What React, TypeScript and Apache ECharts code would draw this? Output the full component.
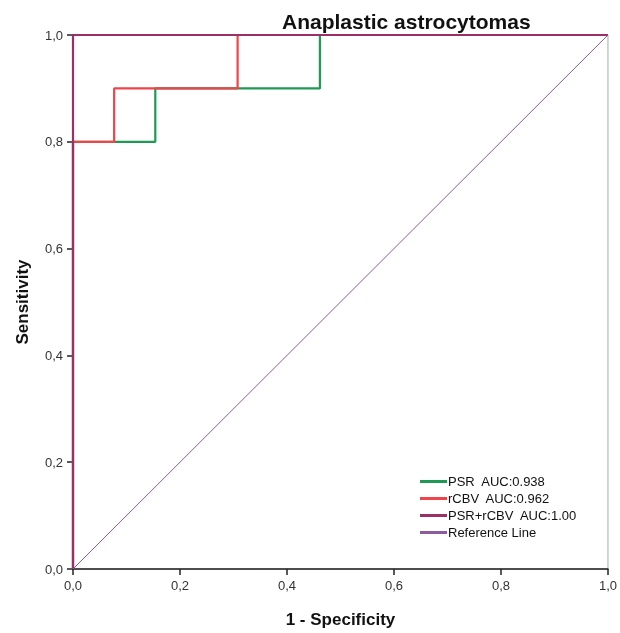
import React, { useEffect, useRef } from "react";
import * as echarts from "echarts";

const psrX = [0, 0, 2 / 13, 2 / 13, 6 / 13, 6 / 13, 1];
const psrY = [0, 0.8, 0.8, 0.9, 0.9, 1.0, 1.0];
const rcbvX = [0, 0, 1 / 13, 1 / 13, 4 / 13, 4 / 13, 1];
const rcbvY = [0, 0.8, 0.8, 0.9, 0.9, 1.0, 1.0];
const comboX = [0, 0, 1];
const comboY = [0, 1.0, 1.0];
const refX = [0, 1];
const refY = [0, 1];
const seriesNames = ["PSR  AUC:0.938", "rCBV  AUC:0.962", "PSR+rCBV  AUC:1.00", "Reference Line"];

const zip = (xs: number[], ys: number[]) => xs.map((x, i) => [x, ys[i]]);
const fmt = (v: number) => v.toFixed(1).replace(".", ",");

export default function App() {
  const ref = useRef<HTMLDivElement>(null);
  useEffect(() => {
    const chart = echarts.init(ref.current!, null, { renderer: "svg" });
    const font = "Arial, 'Liberation Sans', sans-serif";
    const mk = (name: string, data: number[][], color: string, width: number) => ({
      name,
      type: "line",
      data,
      showSymbol: false,
      symbol: "none",
      lineStyle: { color, width },
      itemStyle: { color },
    });
    chart.setOption({
      animation: false,
      textStyle: { fontFamily: font },
      title: {
        text: "Anaplastic astrocytomas",
        left: 277,
        top: 6,
        textStyle: { fontSize: 21, fontWeight: "bold", color: "#111", fontFamily: font },
      },
      grid: {
        left: 73,
        right: 9,
        top: 35,
        bottom: 60,
        show: true,
        borderColor: "#aaa",
        borderWidth: 1,
        backgroundColor: "transparent",
      },
      legend: {
        orient: "vertical",
        left: 415,
        top: 470,
        icon: "rect",
        itemWidth: 27,
        itemHeight: 3,
        itemGap: 4,
        textStyle: { fontSize: 13, color: "#111", fontFamily: font, padding: [0, 0, 0, -4] },
        data: seriesNames,
      },
      xAxis: {
        type: "value",
        min: 0,
        max: 1,
        interval: 0.2,
        name: "1 - Specificity",
        nameLocation: "middle",
        nameGap: 42,
        nameTextStyle: { fontSize: 17, fontWeight: "bold", color: "#111", fontFamily: font },
        axisLine: { show: true, onZero: false, lineStyle: { color: "#222", width: 1.5 } },
        axisTick: { show: true, length: 6, lineStyle: { color: "#222", width: 1.5 } },
        axisLabel: { formatter: fmt, fontSize: 13, color: "#333", margin: 10 },
        splitLine: { show: false },
      },
      yAxis: {
        type: "value",
        min: 0,
        max: 1,
        interval: 0.2,
        name: "Sensitivity",
        nameLocation: "middle",
        nameGap: 42,
        nameTextStyle: { fontSize: 17, fontWeight: "bold", color: "#111", fontFamily: font },
        axisLine: { show: true, onZero: false, lineStyle: { color: "#222", width: 1.5 } },
        axisTick: { show: true, length: 6, lineStyle: { color: "#222", width: 1.5 } },
        axisLabel: { formatter: fmt, fontSize: 13, color: "#333", margin: 10 },
        splitLine: { show: false },
      },
      series: [
        mk(seriesNames[0], zip(psrX, psrY), "#1f9a55", 2.2),
        mk(seriesNames[1], zip(rcbvX, rcbvY), "#f0444a", 2.2),
        mk(seriesNames[2], zip(comboX, comboY), "#9c2f66", 2.2),
        mk(seriesNames[3], zip(refX, refY), "#8e5aa0", 1),
      ],
    });
    return () => chart.dispose();
  }, []);
  return (
    <div
      ref={ref}
      style={{ position: "fixed", left: 0, top: 0, width: 620, height: 633 }}
    />
  );
}
